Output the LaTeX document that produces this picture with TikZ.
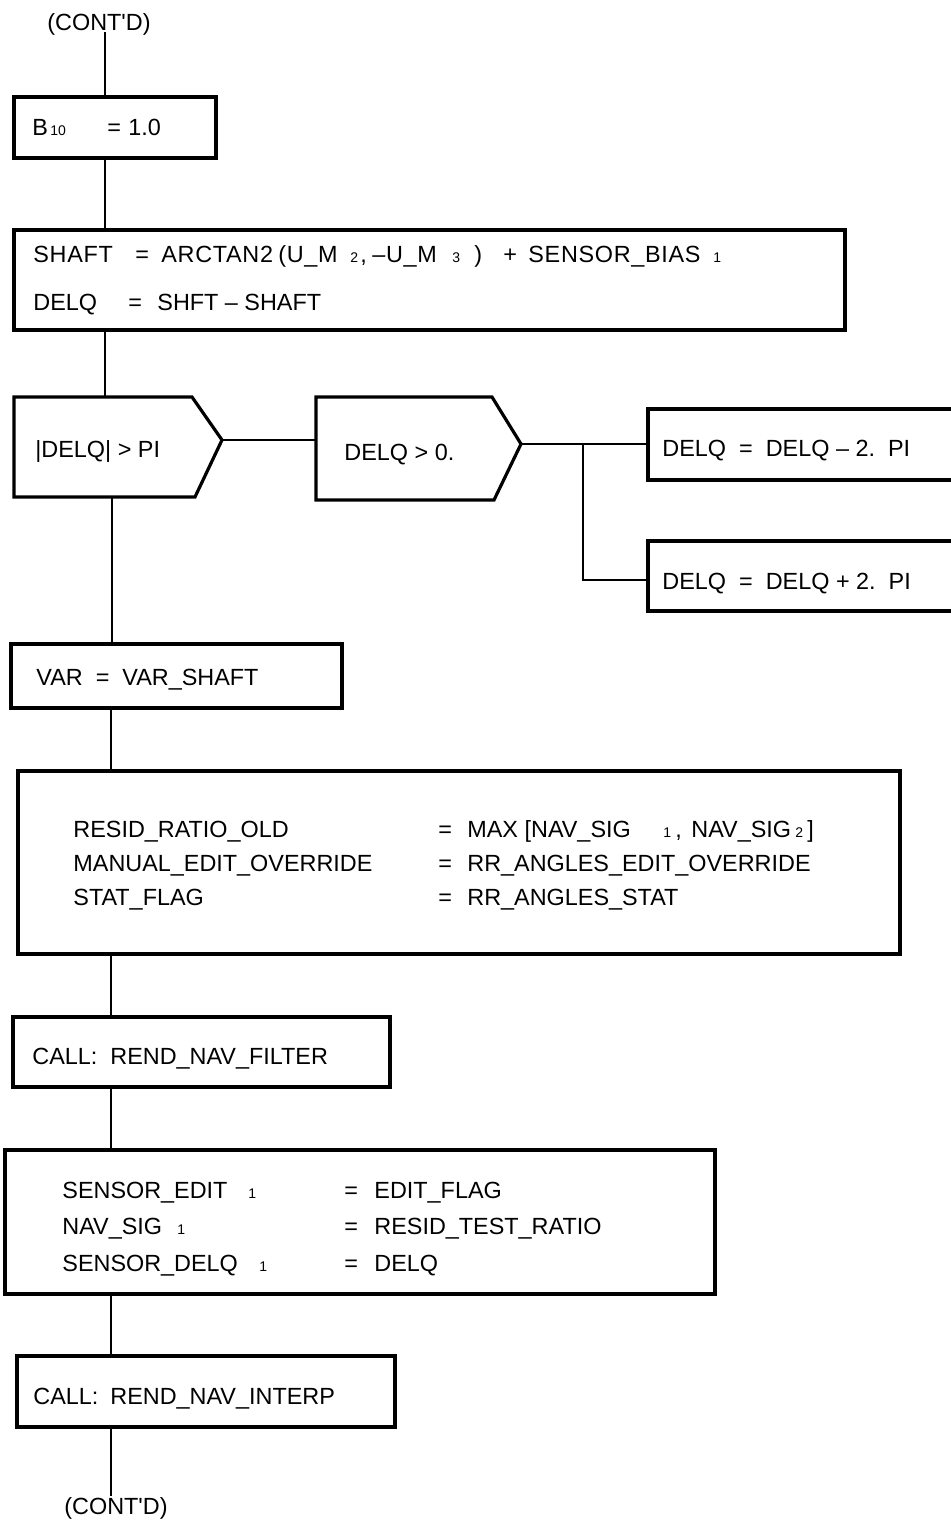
\documentclass[tikz,border=0pt]{standalone}
\usepackage{fontspec}
\setmainfont{Liberation Sans}
\usetikzlibrary{fit}
\newlength\pxu \setlength\pxu{0.5pt}
\newcommand\pc[2]{\makebox[#1\pxu][l]{#2}}
\newcommand\lsub[1]{{\fontsize{7}{8}\selectfont #1}}
\newcommand\qs{\textquotesingle}
\begin{document}
\begin{tikzpicture}[x=0.5pt,y=-0.5pt,
  box/.style={draw, line width=1.6pt, inner sep=0pt},
  ghost/.style={inner sep=0pt},
  shapeline/.style={line width=1.6pt, line join=miter},
  conn/.style={line width=1.4pt},
  txt/.style={anchor=base west, inner sep=0pt, font=\fontsize{11.7}{14}\selectfont}]
\useasboundingbox (0,0) rectangle (951,1524);

% boxes
\node[box, fit={(14,97) (216,158)}] (b10) {};
\node[box, fit={(14,230) (845,330)}] (shaft) {};
\node[ghost, fit={(14,397) (222,497)}] (p1) {};
\node[ghost, fit={(316,397) (521,500)}] (p2) {};
\draw[shapeline] (14,397) -- (192,397) -- (222,440) -- (195,497) -- (14,497) -- cycle;
\draw[shapeline] (316,397) -- (492,397) -- (521,444) -- (494,500) -- (316,500) -- cycle;
\coordinate (p1tip) at (222,440);
\coordinate (p2tip) at (521,444);
\node[box, fit={(648,409) (962,480)}] (bm) {};
\node[box, fit={(648,541) (962,611)}] (bp) {};
\node[box, fit={(11,644) (342,708)}] (var) {};
\node[box, fit={(18,771) (900,954)}] (big) {};
\node[box, fit={(13,1017) (390,1087)}] (filt) {};
\node[box, fit={(5,1150) (715,1294)}] (sens) {};
\node[box, fit={(17,1356) (395,1427)}] (interp) {};

% texts
\node[txt] (ctop) at (47,31) {(CONT\qs D)};
\node[txt] (tb10) at (32,136) {\pc{18}{B}\pc{57}{\lsub{10}}\pc{21}{=}1.0};
\node[txt] (ts1) at (33,263) {\addfontfeatures{LetterSpace=3}\pc{102}{SHAFT}\pc{26}{=}\pc{117}{ARCTAN2}\pc{72}{(U\_M}\pc{10}{\lsub{2}}\pc{12}{,}\pc{80}{–U\_M}\pc{22}{\lsub{3}}\pc{29}{)}\pc{25}{+}\pc{185}{SENSOR\_BIAS}\lsub{1}};
\node[txt] (ts2) at (33,311) {\pc{95}{DELQ}\pc{29}{=}SHFT – SHAFT};
\node[txt] (tp1) at (35,457) {|DELQ| > PI};
\node[txt] (tp2) at (344,460) {DELQ > 0.};
\node[txt] (tbm) at (662,456) {DELQ~~=~~DELQ – 2.~~PI};
\node[txt] (tbp) at (662,589) {DELQ~~=~~DELQ + 2.~~PI};
\node[txt] (tvar) at (36,685) {VAR~~=~~VAR\_SHAFT};
\node[txt] (tg1) at (73,837) {\pc{365}{RESID\_RATIO\_OLD}\pc{29}{=}\pc{196}{MAX [NAV\_SIG}\pc{12}{\lsub{1}}\pc{16}{,}\pc{104}{NAV\_SIG}\pc{12}{\lsub{2}}]};
\node[txt] (tg2) at (73,871) {\pc{365}{MANUAL\_EDIT\_OVERRIDE}\pc{29}{=}RR\_ANGLES\_EDIT\_OVERRIDE};
\node[txt] (tg3) at (73,905) {\pc{365}{STAT\_FLAG}\pc{29}{=}RR\_ANGLES\_STAT};
\node[txt] (tfilt) at (32,1064) {\pc{78}{CALL:}REND\_NAV\_FILTER};
\node[txt] (ts3) at (62,1198) {\pc{186}{SENSOR\_EDIT}\pc{96}{\lsub{1}}\pc{30}{=}EDIT\_FLAG};
\node[txt] (ts4) at (62,1234) {\pc{115}{NAV\_SIG}\pc{167}{\lsub{1}}\pc{30}{=}RESID\_TEST\_RATIO};
\node[txt] (ts5) at (62,1271) {\pc{197}{SENSOR\_DELQ}\pc{85}{\lsub{1}}\pc{30}{=}DELQ};
\node[txt] (tint) at (33,1404) {\pc{77}{CALL:}REND\_NAV\_INTERP};
\node[txt] (cbot) at (64,1514) {(CONT\qs D)};

% connectors
\coordinate (v1) at (105,32);
\coordinate (v3) at (112,0);
\coordinate (v4) at (111,0);
\coordinate (vend) at (111,1496);
\coordinate (br) at (583,444);
\coordinate (bc) at (583,580);
\draw[conn] (v1) -- (v1 |- b10.north);
\draw[conn] (v1 |- b10.south) -- (v1 |- shaft.north);
\draw[conn] (v1 |- shaft.south) -- (v1 |- p1.north);
\draw[conn] (p1tip) -- (p1tip -| p2.west);
\draw[conn] (p2tip) -- (p2tip -| bm.west);
\draw[conn] (br) -- (bc) -- (bc -| bp.west);
\draw[conn] (v3 |- p1.south) -- (v3 |- var.north);
\draw[conn] (v4 |- var.south) -- (v4 |- big.north);
\draw[conn] (v4 |- big.south) -- (v4 |- filt.north);
\draw[conn] (v4 |- filt.south) -- (v4 |- sens.north);
\draw[conn] (v4 |- sens.south) -- (v4 |- interp.north);
\draw[conn] (v4 |- interp.south) -- (vend);
\end{tikzpicture}
\end{document}
